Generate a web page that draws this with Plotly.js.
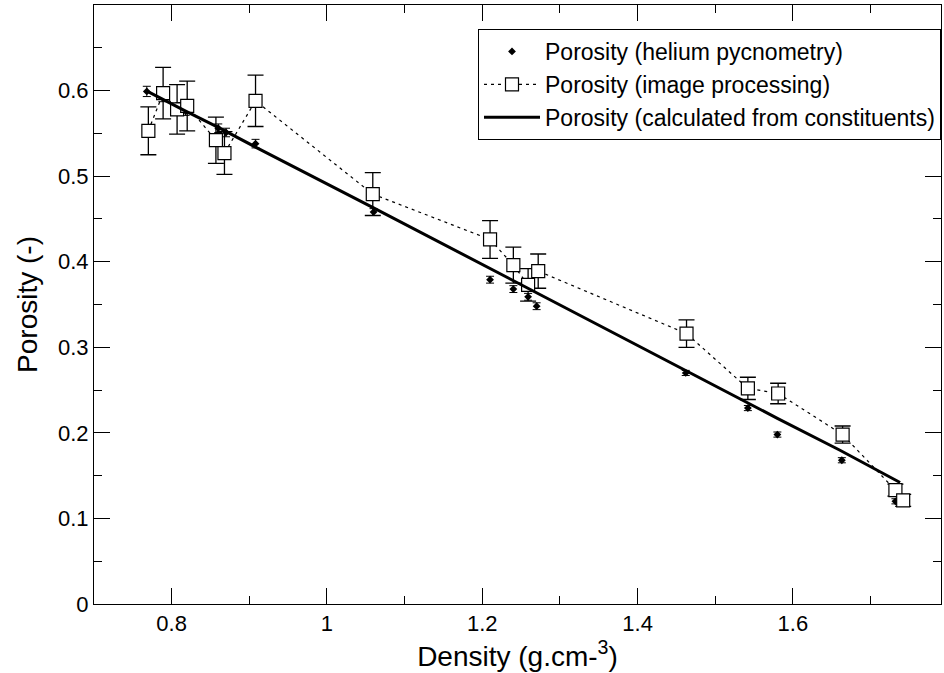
<!DOCTYPE html>
<html>
<head>
<meta charset="utf-8">
<script src="https://cdn.plot.ly/plotly-3.0.1.min.js"></script>
<style>html,body{margin:0;padding:0;background:#fff;}#chart{width:944px;height:673px;}.modebar-container{display:none !important;}</style>
</head>
<body>
<div id="chart"></div>
<script>
// Helium pycnometry
const heDensity = [0.768, 0.788, 0.81, 0.818, 0.86, 0.87, 0.908, 1.06, 1.21, 1.24, 1.259, 1.27, 1.462, 1.542, 1.58, 1.663, 1.732, 1.742];
const hePorosity = [0.599, 0.592, 0.581, 0.576, 0.556, 0.551, 0.538, 0.458, 0.379, 0.368, 0.359, 0.348, 0.270, 0.229, 0.198, 0.168, 0.120, 0.118];
const heErr = [0.006, 0.005, 0.005, 0.005, 0.005, 0.005, 0.005, 0.004, 0.004, 0.004, 0.004, 0.004, 0.003, 0.003, 0.003, 0.003, 0.003, 0.003];

// Image processing
const ipDensity = [0.77, 0.789, 0.807, 0.82, 0.857, 0.868, 0.908, 1.059, 1.21, 1.24, 1.259, 1.272, 1.463, 1.542, 1.581, 1.664, 1.732, 1.742];
const ipPorosity = [0.553, 0.597, 0.578, 0.582, 0.542, 0.527, 0.588, 0.479, 0.426, 0.396, 0.373, 0.389, 0.316, 0.252, 0.246, 0.198, 0.133, 0.121];
const ipErr = [0.028, 0.030, 0.029, 0.029, 0.027, 0.025, 0.030, 0.025, 0.022, 0.021, 0.019, 0.020, 0.016, 0.013, 0.012, 0.010, 0.007, 0.007];

// Calculated from constituents
const calcDensity = [0.767, 0.788, 0.818, 0.86, 0.87, 0.908, 1.06, 1.21, 1.24, 1.26, 1.27, 1.46, 1.54, 1.58, 1.66, 1.73, 1.738];
const calcPorosity = [0.600, 0.590, 0.576, 0.557, 0.552, 0.534, 0.463, 0.392, 0.378, 0.369, 0.364, 0.274, 0.236, 0.217, 0.180, 0.146, 0.142];

// Axis tick settings
const xRange = [0.7, 1.7907], yRange = [0, 0.7];
const xTick0 = 0.8, xDtick = 0.2, xMinorDtick = 0.1;
const yTick0 = 0, yDtick = 0.1, yMinorDtick = 0.05;

const FONT = 'Liberation Sans';

const traces = [
  {
    x: heDensity, y: hePorosity, type: 'scatter', mode: 'markers',
    name: 'Porosity (helium pycnometry)',
    marker: {symbol: 'diamond', size: 6, color: '#000'},
    error_y: {type: 'data', array: heErr, visible: true, color: '#000', thickness: 1, width: 4}
  },
  {
    x: ipDensity, y: ipPorosity, type: 'scatter', mode: 'lines+markers',
    name: 'Porosity (image processing)',
    line: {color: '#000', width: 1.2, dash: '3px,4px'},
    marker: {symbol: 'square', size: 13, color: '#fff', line: {color: '#000', width: 1.2}},
    error_y: {type: 'data', array: ipErr, visible: true, color: '#000', thickness: 1.3, width: 8}
  },
  {
    x: calcDensity, y: calcPorosity, type: 'scatter', mode: 'lines',
    name: 'Porosity (calculated from constituents)',
    line: {color: '#000', width: 3}
  }
];

const layout = {
  width: 944, height: 673,
  margin: {l: 94, r: 3, t: 5, b: 69},
  showlegend: true,
  legend: {
    x: 1, xanchor: 'right', y: 0.96, yanchor: 'top',
    bordercolor: '#000', borderwidth: 1, bgcolor: '#fff',
    font: {family: FONT, size: 23, color: '#000'},
    itemwidth: 56
  },
  xaxis: {
    range: xRange, showline: true, linecolor: '#000', mirror: 'allticks',
    ticks: 'inside', ticklen: 16, tickwidth: 1.2, tickcolor: '#000',
    showgrid: false, zeroline: false,
    tickmode: 'linear', tick0: xTick0, dtick: xDtick,
    tickfont: {family: FONT, size: 22, color: '#000'},
    minor: {ticks: 'inside', ticklen: 8, dtick: xMinorDtick},
    title: {text: 'Density (g.cm-<sup>3</sup>)', font: {family: FONT, size: 28, color: '#000'}, standoff: 0}
  },
  yaxis: {
    range: yRange, showline: true, linecolor: '#000', mirror: 'allticks',
    ticks: 'inside', ticklen: 16, tickwidth: 1.2, tickcolor: '#000',
    showgrid: false, zeroline: false,
    tickmode: 'linear', tick0: yTick0, dtick: yDtick,
    tickfont: {family: FONT, size: 22, color: '#000'},
    minor: {ticks: 'inside', ticklen: 8, dtick: yMinorDtick},
    title: {text: 'Porosity (-)', font: {family: FONT, size: 28, color: '#000'}, standoff: 12}
  }
};

Plotly.newPlot('chart', traces, layout);
</script>
</body>
</html>
